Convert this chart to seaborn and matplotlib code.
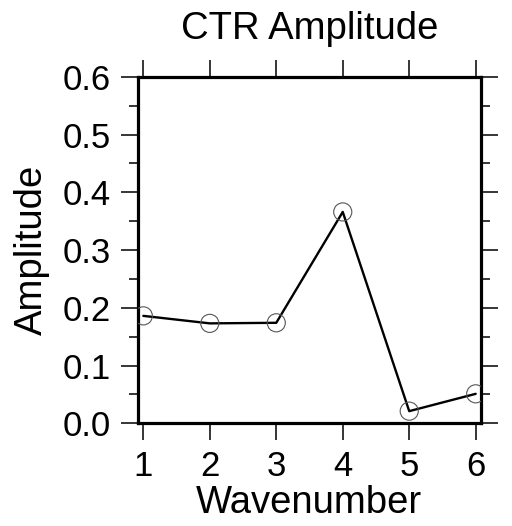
import matplotlib
matplotlib.use("Agg")
import matplotlib.pyplot as plt
import seaborn as sns
import pandas as pd
from matplotlib.ticker import MultipleLocator

wavenumber = [1, 2, 3, 4, 5, 6]
amplitude = [0.186, 0.173, 0.174, 0.366, 0.021, 0.051]
yticks = [0.0, 0.1, 0.2, 0.3, 0.4, 0.5, 0.6]
ytick_labels = ["0.0", "0.1", "0.2", "0.3", "0.4", "0.5", "0.6"]

df = pd.DataFrame({"Wavenumber": wavenumber, "Amplitude": amplitude})

sns.set_style("white")
plt.rcParams["font.family"] = ["Liberation Sans", "DejaVu Sans"]
plt.rcParams["text.color"] = "black"
plt.rcParams["axes.labelcolor"] = "black"
plt.rcParams["xtick.color"] = "black"
plt.rcParams["ytick.color"] = "black"

fig = plt.figure(figsize=(5.12, 5.26), dpi=100)
ax = fig.add_axes([0.269, 0.1953, 0.6705, 0.6587])

sns.lineplot(data=df, x="Wavenumber", y="Amplitude", color="black", lw=1.7, ax=ax)
sns.scatterplot(data=df, x="Wavenumber", y="Amplitude", s=170, facecolor="none",
                edgecolor="#555555", linewidth=0.8, ax=ax, zorder=3)

ax.set_xlim(0.916, 6.08)
ax.set_ylim(0, 0.6)
ax.set_xticks(wavenumber)
ax.set_yticks(yticks)
ax.set_yticklabels(ytick_labels)
ax.yaxis.set_minor_locator(MultipleLocator(0.05))

for s in ax.spines.values():
    s.set_visible(True)
    s.set_linewidth(2.3)
    s.set_color("black")

ax.tick_params(axis="both", which="major", direction="out", length=12.5, width=1.1,
               labelsize=25, pad=7, color="black", labelcolor="black",
               top=True, right=True, labeltop=False, labelright=False,
               bottom=True, left=True)
ax.tick_params(axis="y", which="minor", direction="out", length=6.5, width=1.1,
               left=True, right=True, color="black")

ax.set_xlabel("Wavenumber", fontsize=27.5, labelpad=1.5)
ax.set_ylabel("Amplitude", fontsize=27.5, labelpad=9)
ax.set_title("CTR Amplitude", fontsize=27.5, pad=27)

fig.savefig("out.png", dpi=100)
